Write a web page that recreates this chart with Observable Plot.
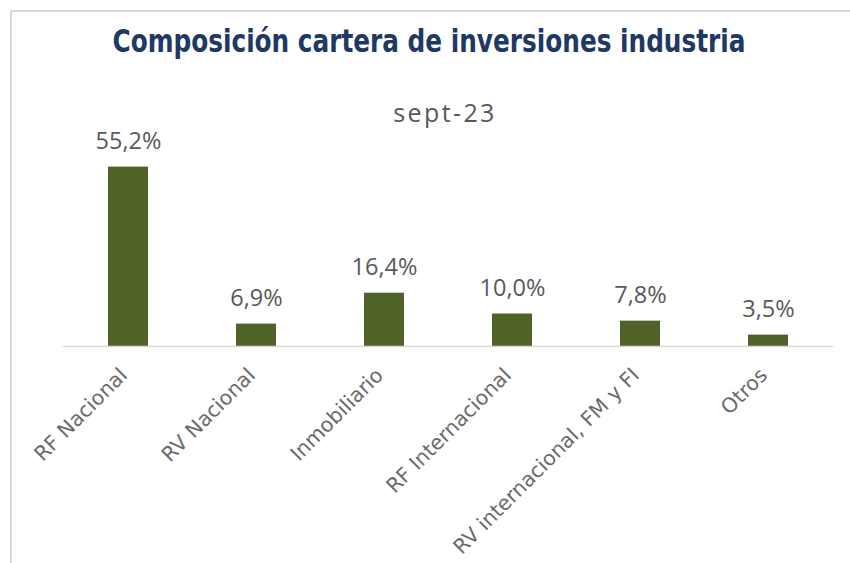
<!DOCTYPE html>
<html>
<head>
<meta charset="utf-8">
<script src="https://cdn.jsdelivr.net/npm/d3@7"></script>
<script src="https://cdn.jsdelivr.net/npm/@observablehq/plot@0.6"></script>
<style>
  html, body { margin: 0; padding: 0; background: #fff; }
  #wrap { position: relative; width: 850px; height: 563px; overflow: hidden; background: #fff; }
  #frame { position: absolute; left: 10px; top: 10px; width: 900px; height: 600px;
           border-left: 2px solid #d9d9d9; border-top: 2px solid #d9d9d9; box-sizing: border-box; }
  #title { position: absolute; left: 0; width: 858px; top: 21px; text-align: center;
           font-family: "DejaVu Sans Condensed", sans-serif; font-weight: 700;
           font-size: 32px; color: #203864; line-height: 40px;
           transform: scaleX(0.86); transform-origin: 429px 50%; }
  #subtitle { position: absolute; left: 0; width: 890px; top: 95px; text-align: center;
           font-family: "Open Sans", sans-serif; font-weight: 400; font-size: 25px; letter-spacing: 2.4px;
           color: #595959; line-height: 34px; }
  #chart { position: absolute; left: 0; top: 0; }
</style>
</head>
<body>
<div id="wrap">
  <div id="frame"></div>
  <div id="chart"></div>
  <div id="title">Composición cartera de inversiones industria</div>
  <div id="subtitle">sept-23</div>
</div>
<script>
const categories = ["RF Nacional", "RV Nacional", "Inmobiliario", "RF Internacional", "RV internacional, FM y FI", "Otros"];
const values = [55.2, 6.9, 16.4, 10.0, 7.8, 3.5];

const data = categories.map((c, i) => ({cat: c, value: values[i]}));
const fmt = v => v.toFixed(1).replace(".", ",") + "%";

const chart = Plot.plot({
  width: 850,
  height: 563,
  marginLeft: 63,
  marginRight: 17,
  marginTop: 151,
  marginBottom: 217,
  style: { background: "transparent", fontFamily: "Open Sans, sans-serif" },
  x: { domain: categories, paddingInner: 0.69, paddingOuter: 0.345, axis: null },
  y: { domain: [0, 60], axis: null },
  marks: [
    Plot.barY(data, { x: "cat", y: "value", fill: "#4f6228" }),
    Plot.ruleY([0], { stroke: "#d9d9d9", strokeWidth: 1.5 }),
    Plot.text(data, { x: "cat", y: "value", text: d => fmt(d.value), dy: -26, fontSize: 23.5,
      letterSpacing: 1.2, fill: "#595959" }),
    Plot.text(categories, { x: d => d, frameAnchor: "bottom", dy: 30, dx: 0, rotate: -45,
      textAnchor: "end", fontSize: 20.5, letterSpacing: 2, fontFamily: "DejaVu Sans, sans-serif",
      fill: "#6a6a6a" })
  ]
});
document.getElementById("chart").appendChild(chart);
</script>
</body>
</html>
